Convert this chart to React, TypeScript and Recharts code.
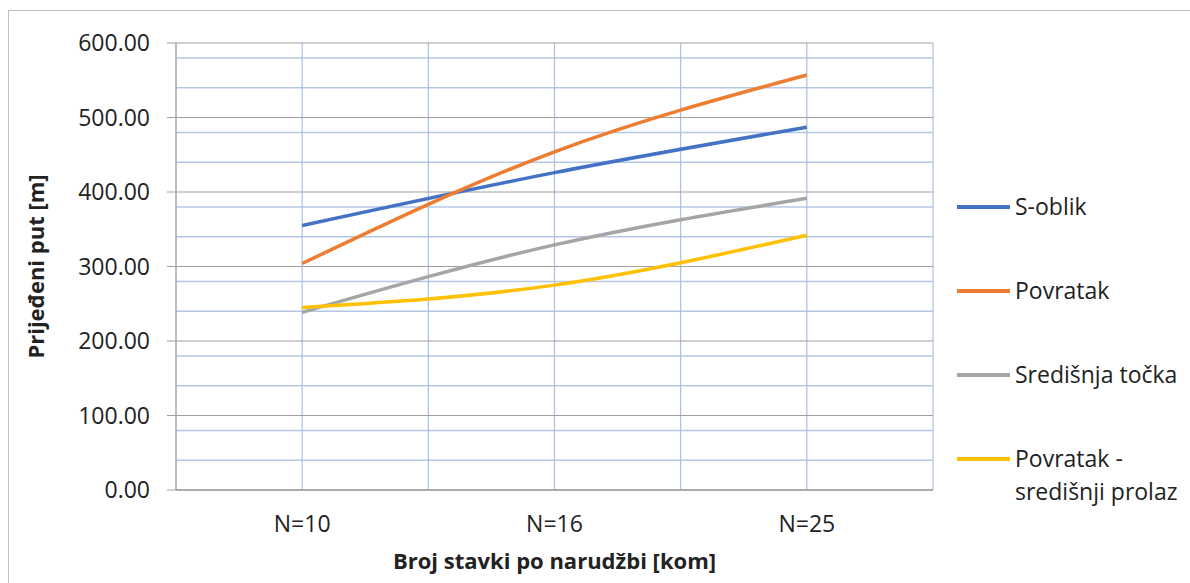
import { LineChart, Line, XAxis, YAxis, CartesianGrid } from 'recharts';

const CATEGORIES = ['N=10', 'N=16', 'N=25'];
const S_OBLIK = [355, 426, 487];
const POVRATAK = [304, 454, 557];
const SREDISNJA_TOCKA = [238.5, 329, 391.5];
const POVRATAK_SREDISNJI = [245, 275, 342];

const Y_TICKS = [0, 100, 200, 300, 400, 500, 600];
const Y_MINOR = [20, 40, 60, 80, 120, 140, 160, 180, 220, 240, 260, 280, 320, 340, 360, 380, 420, 440, 460, 480, 520, 540, 560, 580];
const X_GRID = [-0.5, 0, 0.5, 1, 1.5, 2, 2.5];

const SERIES = [
    { key: 'sOblik', name: 'S-oblik', color: '#4472c4', values: S_OBLIK },
    { key: 'povratak', name: 'Povratak', color: '#ed7d31', values: POVRATAK },
    { key: 'sredisnja', name: 'Središnja točka', color: '#a5a5a5', values: SREDISNJA_TOCKA },
    { key: 'povratakSp', name: 'Povratak - središnji prolaz', color: '#ffc000', values: POVRATAK_SREDISNJI },
];

const FONT = '"Open Sans", sans-serif';
const TEXT = '#222222';

const data = CATEGORIES.map((_c, i) => {
    const row: Record<string, number> = { x: i };
    SERIES.forEach((s) => {
        row[s.key] = s.values[i];
    });
    return row;
});

export default function App() {
    return (
        <>
            <style>{`html,body{margin:0;overflow:hidden;background:#fff}`}</style>
            <div
                style={{
                    position: 'absolute',
                    left: 8,
                    top: 10,
                    width: 1182,
                    height: 573,
                    borderLeft: '1px solid #bfbfbf',
                    borderTop: '1px solid #bfbfbf',
                    boxSizing: 'border-box',
                    fontFamily: FONT,
                }}
            >
                <LineChart
                    width={1181}
                    height={572}
                    data={data}
                    margin={{ top: 32, right: 257, bottom: 53, left: 67 }}
                >
                    <CartesianGrid horizontalValues={Y_MINOR} vertical={false} stroke="#b4c7e7" strokeWidth={1.5} />
                    <CartesianGrid verticalValues={X_GRID} horizontal={false} stroke="#a9bfe6" strokeWidth={1.2} />
                    <CartesianGrid horizontalValues={Y_TICKS} vertical={false} stroke="#a0a0a0" strokeWidth={1.2} />
                    <XAxis
                        dataKey="x"
                        type="number"
                        domain={[-0.5, 2.5]}
                        ticks={[0, 1, 2]}
                        tickFormatter={(v: number) => CATEGORIES[v]}
                        tickLine={false}
                        tickSize={0}
                        tickMargin={26}
                        height={40}
                        axisLine={{ stroke: '#a0a0a0', strokeWidth: 1.5 }}
                        tick={{ fill: TEXT, fontSize: 23, fontFamily: FONT }}
                        label={{
                            content: ({ viewBox }: any) => (
                                <text
                                    x={viewBox.x + viewBox.width / 2}
                                    y={viewBox.y + 79}
                                    textAnchor="middle"
                                    fill={TEXT}
                                    fontSize={22}
                                    fontWeight="bold"
                                    fontFamily={FONT}
                                >
                                    Broj stavki po narudžbi [kom]
                                </text>
                            ),
                        }}
                    />
                    <YAxis
                        type="number"
                        domain={[0, 600]}
                        ticks={Y_TICKS}
                        width={100}
                        tickFormatter={(v: number) => v.toFixed(2)}
                        tickSize={9}
                        tickMargin={17}
                        tickLine={{ stroke: '#a0a0a0' }}
                        axisLine={{ stroke: '#a0a0a0' }}
                        tick={{ fill: TEXT, fontSize: 23, fontFamily: FONT }}
                        label={{
                            content: ({ viewBox }: any) => {
                                const cx = viewBox.x - 41;
                                const cy = viewBox.y + viewBox.height / 2;
                                return (
                                    <text
                                        x={cx}
                                        y={cy}
                                        transform={`rotate(-90 ${cx} ${cy})`}
                                        textAnchor="middle"
                                        dominantBaseline="central"
                                        fill={TEXT}
                                        fontSize={22}
                                        fontWeight="bold"
                                        fontFamily={FONT}
                                    >
                                        Prijeđeni put [m]
                                    </text>
                                );
                            },
                        }}
                    />
                    {SERIES.map((s) => (
                        <Line
                            key={s.key}
                            dataKey={s.key}
                            name={s.name}
                            type="natural"
                            stroke={s.color}
                            strokeWidth={3.5}
                            dot={false}
                            activeDot={false}
                            isAnimationActive={false}
                        />
                    ))}
                </LineChart>
                <div style={{ position: 'absolute', left: 948, top: 179 }}>
                    {SERIES.map((s) => (
                        <div
                            key={s.key}
                            style={{ display: 'flex', alignItems: 'flex-start', height: 84 }}
                        >
                            <span
                                style={{
                                    display: 'inline-block',
                                    width: 53,
                                    height: 3.5,
                                    marginTop: 15,
                                    backgroundColor: s.color,
                                }}
                            />
                            <span
                                style={{
                                    marginLeft: 5,
                                    width: 172,
                                    fontSize: 23,
                                    lineHeight: '33px',
                                    color: TEXT,
                                }}
                            >
                                {s.name}
                            </span>
                        </div>
                    ))}
                </div>
            </div>
        </>
    );
}
